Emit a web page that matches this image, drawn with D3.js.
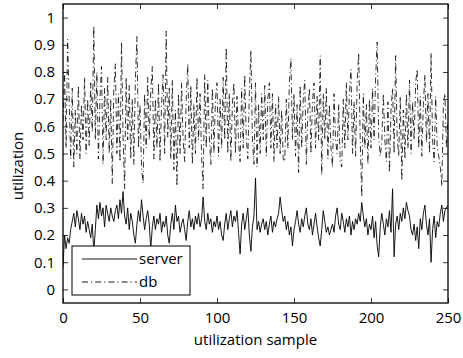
<!DOCTYPE html>
<html>
<head>
<meta charset="utf-8">
<script src="https://cdn.jsdelivr.net/npm/d3@7"></script>
<style>
  body { margin: 0; background: #fff; }
  svg text { font-family: "Open Sans", sans-serif; fill: #000; }
</style>
</head>
<body>
<div id="app"></div>
<script>
// utilization samples (index 0..250)
const server = [
  0.08, 0.20, 0.15, 0.19, 0.17, 0.22, 0.25, 0.28, 0.23, 0.29,
  0.26, 0.22, 0.28, 0.24, 0.27, 0.21, 0.25, 0.22, 0.19, 0.24,
  0.14, 0.22, 0.31, 0.26, 0.32, 0.27, 0.30, 0.23, 0.31, 0.28,
  0.25, 0.30, 0.27, 0.25, 0.29, 0.31, 0.26, 0.33, 0.28, 0.36,
  0.27, 0.24, 0.30, 0.22, 0.28, 0.25, 0.20, 0.17, 0.24, 0.29,
  0.25, 0.33, 0.27, 0.22, 0.26, 0.29, 0.24, 0.15, 0.23, 0.27,
  0.22, 0.26, 0.24, 0.28, 0.21, 0.25, 0.23, 0.27, 0.20, 0.17,
  0.24, 0.28, 0.22, 0.31, 0.25, 0.27, 0.21, 0.24, 0.26, 0.22,
  0.18, 0.25, 0.29, 0.23, 0.26, 0.22, 0.27, 0.24, 0.28, 0.23,
  0.26, 0.34, 0.25, 0.22, 0.28, 0.24, 0.26, 0.21, 0.25, 0.23,
  0.27, 0.22, 0.25, 0.20, 0.18, 0.24, 0.28, 0.22, 0.26, 0.29,
  0.23, 0.27, 0.25, 0.29, 0.21, 0.13, 0.24, 0.28, 0.22, 0.26,
  0.30, 0.20, 0.14, 0.23, 0.27, 0.41, 0.22, 0.25, 0.21, 0.24,
  0.26, 0.22, 0.25, 0.20, 0.24, 0.27, 0.21, 0.25, 0.23, 0.26,
  0.28, 0.34, 0.29, 0.25, 0.27, 0.22, 0.25, 0.20, 0.23, 0.16,
  0.22, 0.25, 0.29, 0.24, 0.21, 0.26, 0.23, 0.27, 0.30, 0.24,
  0.22, 0.26, 0.20, 0.24, 0.28, 0.23, 0.19, 0.16, 0.22, 0.29,
  0.25, 0.21, 0.23, 0.20, 0.22, 0.24, 0.21, 0.27, 0.30, 0.24,
  0.22, 0.28, 0.25, 0.21, 0.26, 0.23, 0.27, 0.20, 0.25, 0.22,
  0.26, 0.24, 0.28, 0.25, 0.32, 0.27, 0.23, 0.26, 0.20, 0.24,
  0.22, 0.27, 0.19, 0.25, 0.16, 0.12, 0.23, 0.28, 0.24, 0.20,
  0.26, 0.23, 0.29, 0.21, 0.37, 0.12, 0.24, 0.27, 0.22, 0.28,
  0.25, 0.30, 0.26, 0.32, 0.29, 0.27, 0.22, 0.20, 0.24, 0.18,
  0.23, 0.15, 0.26, 0.22, 0.28, 0.31, 0.24, 0.20, 0.26, 0.10,
  0.22, 0.27, 0.19, 0.25, 0.23, 0.28, 0.31, 0.25, 0.29, 0.30,
  0.31
]

const db = [
  0.62, 0.80, 0.52, 0.92, 0.70, 0.48, 0.74, 0.45, 0.66, 0.50,
  0.75, 0.48, 0.68, 0.55, 0.78, 0.50, 0.70, 0.53, 0.76, 0.58,
  0.97, 0.55, 0.80, 0.48, 0.70, 0.82, 0.46, 0.74, 0.55, 0.78,
  0.50, 0.70, 0.39, 0.74, 0.83, 0.50, 0.72, 0.47, 0.91, 0.56,
  0.37, 0.78, 0.55, 0.75, 0.48, 0.70, 0.46, 0.77, 0.93, 0.52,
  0.68, 0.45, 0.39, 0.72, 0.52, 0.78, 0.55, 0.73, 0.82, 0.48,
  0.70, 0.52, 0.76, 0.47, 0.68, 0.79, 0.50, 0.95, 0.56, 0.74,
  0.48, 0.77, 0.44, 0.66, 0.38, 0.72, 0.50, 0.76, 0.55, 0.47,
  0.70, 0.83, 0.52, 0.75, 0.46, 0.68, 0.50, 0.78, 0.55, 0.72,
  0.49, 0.37, 0.79, 0.52, 0.77, 0.56, 0.46, 0.74, 0.50, 0.70,
  0.76, 0.49, 0.70, 0.52, 0.78, 0.55, 0.89, 0.50, 0.72, 0.47,
  0.68, 0.76, 0.50, 0.71, 0.54, 0.47, 0.74, 0.52, 0.79, 0.56,
  0.48, 0.72, 0.88, 0.55, 0.46, 0.76, 0.45, 0.68, 0.50, 0.72,
  0.55, 0.75, 0.49, 0.70, 0.76, 0.52, 0.72, 0.47, 0.68, 0.52,
  0.71, 0.50, 0.66, 0.48, 0.47, 0.70, 0.52, 0.76, 0.85, 0.55,
  0.72, 0.49, 0.68, 0.43, 0.75, 0.52, 0.70, 0.77, 0.46, 0.66,
  0.74, 0.50, 0.69, 0.76, 0.52, 0.71, 0.55, 0.86, 0.42, 0.72,
  0.55, 0.74, 0.48, 0.68, 0.52, 0.45, 0.72, 0.55, 0.50, 0.68,
  0.47, 0.45, 0.70, 0.52, 0.76, 0.55, 0.72, 0.81, 0.50, 0.69,
  0.49, 0.76, 0.87, 0.55, 0.34, 0.72, 0.52, 0.68, 0.46, 0.70,
  0.52, 0.74, 0.55, 0.78, 0.91, 0.56, 0.49, 0.54, 0.72, 0.55,
  0.47, 0.69, 0.43, 0.66, 0.74, 0.50, 0.86, 0.56, 0.49, 0.71,
  0.40, 0.66, 0.48, 0.72, 0.52, 0.77, 0.50, 0.69, 0.55, 0.76,
  0.81, 0.52, 0.71, 0.49, 0.68, 0.79, 0.54, 0.72, 0.50, 0.87,
  0.55, 0.47, 0.71, 0.52, 0.49, 0.45, 0.38, 0.68, 0.72, 0.52,
  0.62
]

const xTicks = [0, 50, 100, 150, 200, 250]
const yTicks = [0, 0.1, 0.2, 0.3, 0.4, 0.5, 0.6, 0.7, 0.8, 0.9, 1]
const seriesNames = ['server', 'db']

const width = 463
const height = 358
const margin = {top: 4, right: 15, bottom: 55, left: 63}
const dashDot = '6,3,1.2,3'

const svg = d3.select('#app').append('svg')
    .attr('width', width)
    .attr('height', height)

const x = d3.scaleLinear().domain([0, 250]).range([margin.left, width - margin.right])
const y = d3.scaleLinear().domain([-0.05, 1.05]).range([height - margin.bottom, margin.top])

const line = d3.line()
    .x((d, i) => x(i))
    .y(d => y(d))

// clip to the axes box
svg.append('clipPath').attr('id', 'plotclip')
  .append('rect')
    .attr('x', x(0)).attr('y', y(1.05))
    .attr('width', x(250) - x(0)).attr('height', y(-0.05) - y(1.05))

const plot = svg.append('g').attr('clip-path', 'url(#plotclip)')

plot.append('path')
    .datum(server)
    .attr('d', line)
    .attr('fill', 'none')
    .attr('stroke', '#000')
    .attr('stroke-width', 0.9)

plot.append('path')
    .datum(db)
    .attr('d', line)
    .attr('fill', 'none')
    .attr('stroke', '#000')
    .attr('stroke-width', 0.8)
    .attr('stroke-dasharray', dashDot)

// axes, ticks pointing inward, mirrored on top and right
const tickLen = 5
const bottomAxis = d3.axisBottom(x).tickValues(xTicks).tickSize(-tickLen).tickPadding(9)
const leftAxis = d3.axisLeft(y).tickValues(yTicks).tickSize(-tickLen).tickPadding(8).tickFormat(d3.format('~g'))

svg.append('g')
    .attr('transform', `translate(0,${y(-0.05)})`)
    .call(bottomAxis)
svg.append('g')
    .attr('transform', `translate(${x(0)},0)`)
    .call(leftAxis)
svg.append('g')
    .attr('transform', `translate(0,${y(1.05)})`)
    .call(d3.axisTop(x).tickValues(xTicks).tickSize(-tickLen).tickFormat(''))
svg.append('g')
    .attr('transform', `translate(${x(250)},0)`)
    .call(d3.axisRight(y).tickValues(yTicks).tickSize(-tickLen).tickFormat(''))

svg.selectAll('.domain').remove()
svg.selectAll('.tick line').attr('stroke', '#000').attr('stroke-width', 0.8)
svg.selectAll('.tick text')
    .style('font-family', '"Open Sans", sans-serif')
    .style('font-size', '15px')
    .attr('fill', '#000')

svg.append('rect')
    .attr('x', x(0)).attr('y', y(1.05))
    .attr('width', x(250) - x(0)).attr('height', y(-0.05) - y(1.05))
    .attr('fill', 'none')
    .attr('stroke', '#000')
    .attr('stroke-width', 1.3)

// axis labels
svg.append('text')
    .attr('x', (x(0) + x(250)) / 2)
    .attr('y', 345)
    .attr('text-anchor', 'middle')
    .style('font-size', '15px')
    .text('utilization sample')

svg.append('text')
    .attr('transform', 'translate(23,166) rotate(-90)')
    .attr('text-anchor', 'middle')
    .style('font-size', '15px')
    .text('utilization')

// legend
const legend = svg.append('g')
legend.append('rect')
    .attr('x', 72).attr('y', 246)
    .attr('width', 118).attr('height', 49)
    .attr('fill', '#fff')
    .attr('stroke', '#000')
    .attr('stroke-width', 1)

const legendRows = legend.selectAll('g.row')
  .data(seriesNames)
  .join('g')
    .attr('class', 'row')
    .attr('transform', (d, i) => `translate(82,${259 + i * 23})`)

legendRows.append('line')
    .attr('x1', 0).attr('x2', 55)
    .attr('stroke', '#000')
    .attr('stroke-width', 0.9)
    .attr('stroke-dasharray', d => d === 'db' ? dashDot : null)

legendRows.append('text')
    .attr('x', 57)
    .attr('y', 5)
    .style('font-size', '15px')
    .text(d => d)
</script>
</body>
</html>
